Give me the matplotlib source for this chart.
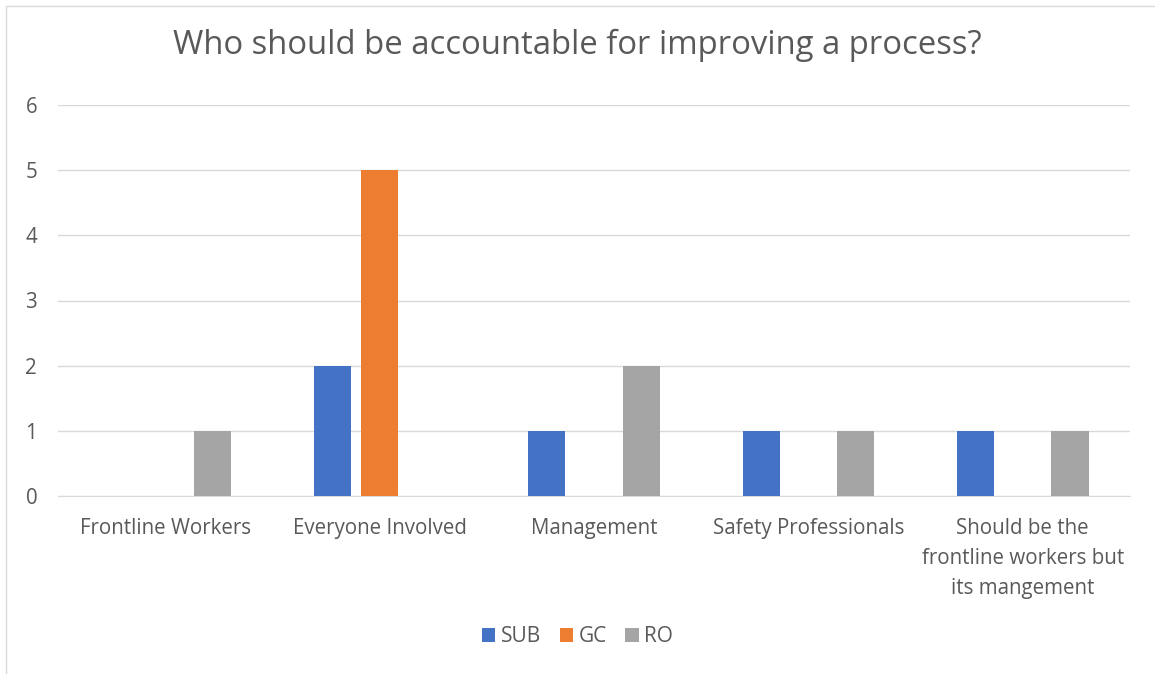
import numpy as np
import matplotlib.pyplot as plt
from matplotlib.patches import Rectangle

plt.rcParams['font.family'] = ['Open Sans', 'DejaVu Sans']

categories = ["Frontline Workers", "Everyone Involved", "Management",
              "Safety Professionals",
              "Should be the\nfrontline workers but\nits mangement"]
series = ["SUB", "GC", "RO"]
sub_vals = [0, 2, 1, 1, 1]
gc_vals = [0, 5, 0, 0, 0]
ro_vals = [1, 0, 2, 1, 1]
colors = ["#4472C4", "#ED7D31", "#A5A5A5"]
text_col = "#595959"

W, H = 1155, 674
fig = plt.figure(figsize=(W / 100, H / 100), dpi=100)

# chart frame (cropped on right/bottom)
fig.patches.append(Rectangle((6 / W, -0.01), 1.02, 1 - 6 / H + 0.01,
                             transform=fig.transFigure, fill=False,
                             edgecolor="#D9D9D9", linewidth=1))

ax = fig.add_axes([58 / W, 1 - 496 / H, (1130 - 58) / W, (496 - 105) / H])

x = np.arange(len(categories))
bw = 0.173
off = 0.22
for i, (vals, name) in enumerate(zip([sub_vals, gc_vals, ro_vals], series)):
    ax.bar(x + (i - 1) * off, vals, width=bw, color=colors[i], label=name, zorder=3)

ax.set_xlim(-0.5, len(categories) - 0.5)
ax.set_ylim(0, 6)
ax.set_yticks(range(7))
ax.grid(axis="y", color="#D9D9D9", linewidth=1, zorder=0)
for s in ["top", "right", "left"]:
    ax.spines[s].set_visible(False)
ax.spines["bottom"].set_color("#D9D9D9")
ax.tick_params(axis="both", length=0, labelsize=14.8, colors=text_col)
ax.tick_params(axis="y", pad=15)
ax.tick_params(axis="x", pad=16)
ax.set_xticks(x)
ax.set_xticklabels(categories, linespacing=1.55, va="top")

fig.text(0.5, 1 - 45 / H, "Who should be accountable for improving a process?",
         ha="center", va="center", fontsize=23.7, color=text_col)

leg = fig.legend(loc="center", bbox_to_anchor=(0.5, 1 - 637 / H), ncol=3,
                 frameon=False, fontsize=15, handlelength=0.65, handleheight=0.65,
                 handletextpad=0.25, columnspacing=0.9)
for t in leg.get_texts():
    t.set_color(text_col)

fig.savefig("out.png", dpi=100)
